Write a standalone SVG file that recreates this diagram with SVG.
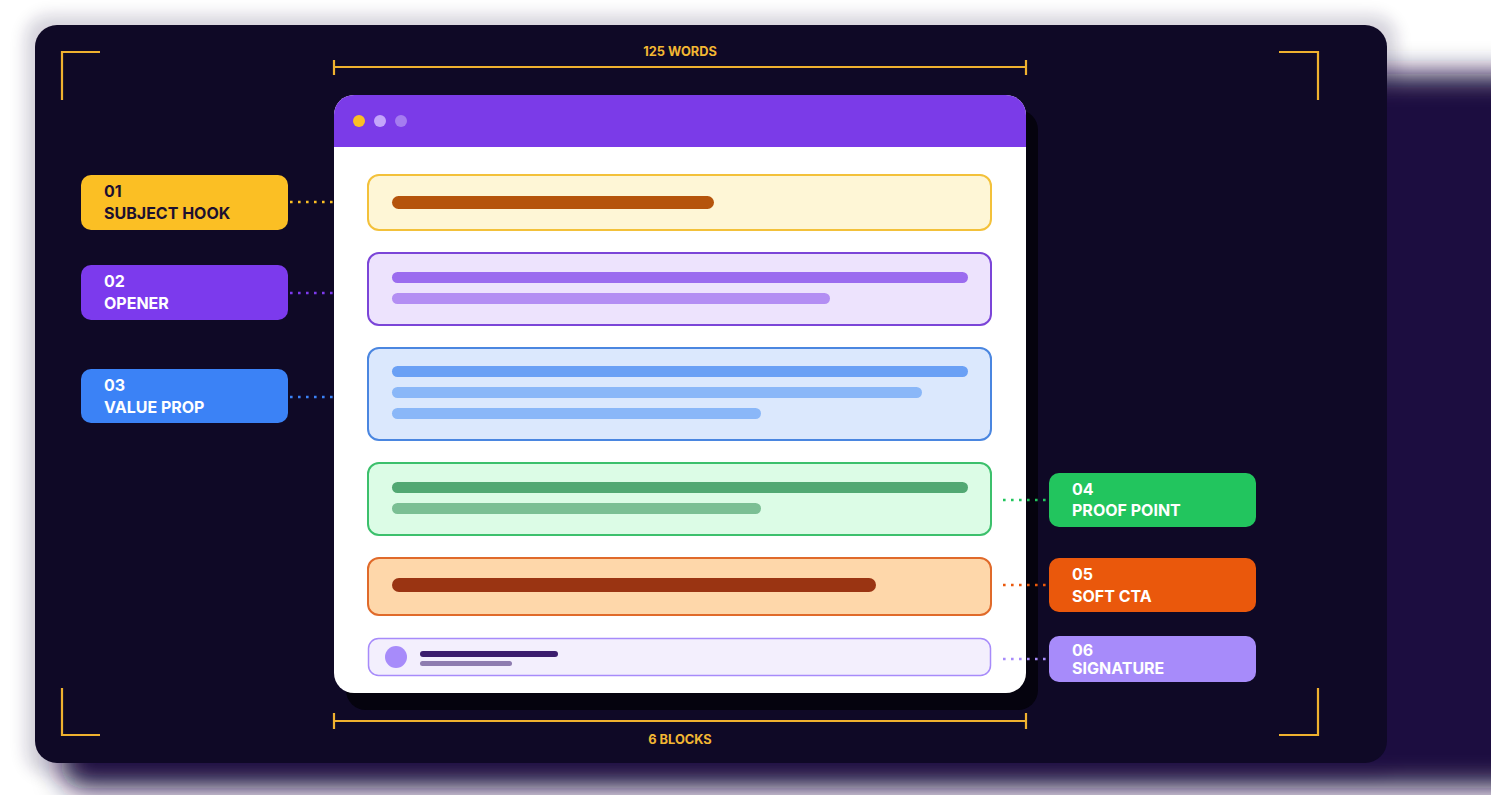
<svg xmlns="http://www.w3.org/2000/svg" width="1491" height="795" viewBox="0 0 1491 795">
<defs>
<filter id="bigShadow" x="-10%" y="-20%" width="130%" height="140%"><feGaussianBlur stdDeviation="14"/></filter>
<filter id="soft" x="-10%" y="-10%" width="120%" height="120%"><feGaussianBlur stdDeviation="8"/></filter>
<style>
.bracket{fill:none;stroke:#efb12f;stroke-width:2.2}
.dim{fill:none;stroke:#efb12f;stroke-width:2.2}
.dimtext{font-family:Inter,"Liberation Sans",sans-serif;font-weight:700;font-size:12.8px;fill:#f3b733;text-anchor:middle}
.lbl{font-family:Inter,"Liberation Sans",sans-serif;font-weight:700;font-size:16px}
.dark{fill:#1c1030}
.light{fill:#ffffff}
.conn{fill:none;stroke-width:2.6;stroke-dasharray:2.6 5.4}
.blk{stroke-width:2}
</style>
</defs>
<rect width="1491" height="795" fill="#ffffff"/>
<!-- background shadows -->
<rect x="25" y="15" width="1372" height="760" rx="24" fill="#1e0b40" opacity="0.18" filter="url(#soft)"/>
<rect x="62" y="74" width="1500" height="714" rx="20" fill="#1e0b40" filter="url(#bigShadow)"/>
<!-- card -->
<rect x="35" y="25" width="1352" height="738" rx="22" fill="#0f0926"/>
<!-- brackets -->
<g id="brackets">
<path class="bracket" d="M62 100 V52 H100"/>
<path class="bracket" d="M1279 52 H1318 V100"/>
<path class="bracket" d="M62 688 V735 H100"/>
<path class="bracket" d="M1279 735 H1318 V688"/>
</g>
<!-- dimensions -->
<g id="dim-top">
<path class="dim" d="M334 67 H1026 M334 60 V75 M1026 60 V75"/>
<text class="dimtext" x="680" y="56">125 WORDS</text>
</g>
<g id="dim-bottom">
<path class="dim" d="M334 721 H1026 M334 713 V729 M1026 713 V729"/>
<text class="dimtext" x="680" y="744">6 BLOCKS</text>
</g>
<!-- window -->
<g id="window">
<rect x="346" y="110" width="692" height="600" rx="20" fill="#05030e"/>
<rect x="334" y="95" width="692" height="598" rx="20" fill="#ffffff"/>
<path d="M354 95 H1006 A20 20 0 0 1 1026 115 V147 H334 V115 A20 20 0 0 1 354 95 Z" fill="#7b3be8"/>
<circle cx="359" cy="121" r="6" fill="#fbbf24"/>
<circle cx="380" cy="121" r="6" fill="#c4a5fb"/>
<circle cx="401" cy="121" r="6" fill="#a57cf0"/>
</g>
<!-- blocks -->
<g id="block1">
<rect class="blk" x="368" y="175" width="623" height="55" rx="11" fill="#fef6d6" stroke="#f3c13a"/>
<rect x="392" y="196" width="322" height="13" rx="6.5" fill="#b5540c"/>
</g>
<g id="block2">
<rect class="blk" x="368" y="253" width="623" height="72" rx="11" fill="#ede3fd" stroke="#7b45d8"/>
<rect x="392" y="272" width="576" height="11" rx="5.5" fill="#9b6cef"/>
<rect x="392" y="293" width="438" height="11" rx="5.5" fill="#b38ef3"/>
</g>
<g id="block3">
<rect class="blk" x="368" y="348" width="623" height="92" rx="11" fill="#dbe8fd" stroke="#4a86e0"/>
<rect x="392" y="366" width="576" height="11" rx="5.5" fill="#6aa0f5"/>
<rect x="392" y="387" width="530" height="11" rx="5.5" fill="#8ab7f8"/>
<rect x="392" y="408" width="369" height="11" rx="5.5" fill="#8ab7f8"/>
</g>
<g id="block4">
<rect class="blk" x="368" y="463" width="623" height="72" rx="11" fill="#dcfce6" stroke="#3cc06c"/>
<rect x="392" y="482" width="576" height="11" rx="5.5" fill="#52a873"/>
<rect x="392" y="503" width="369" height="11" rx="5.5" fill="#7bbf94"/>
</g>
<g id="block5">
<rect class="blk" x="368" y="558" width="623" height="57" rx="11" fill="#fed7aa" stroke="#e06a2a"/>
<rect x="392" y="578" width="484" height="14" rx="7" fill="#9a3412"/>
</g>
<g id="block6">
<rect x="368.5" y="638.5" width="622" height="37" rx="10" fill="#f3effd" stroke="#a78bfa" stroke-width="1.5"/>
<circle cx="396" cy="657" r="11" fill="#a78bfa"/>
<rect x="420" y="651" width="138" height="6" rx="3" fill="#3b1d6e"/>
<rect x="420" y="661" width="92" height="5" rx="2.5" fill="#8e7cb0"/>
</g>
<!-- connectors -->
<g id="connectors">
<path class="conn" d="M290 202 H334" stroke="#fbbf24"/>
<path class="conn" d="M290 293 H334" stroke="#7c3aed"/>
<path class="conn" d="M290 397 H334" stroke="#3b82f6"/>
<path class="conn" d="M1003 500 H1049" stroke="#22c55e"/>
<path class="conn" d="M1003 585 H1049" stroke="#ea580c"/>
<path class="conn" d="M1003 659 H1049" stroke="#a78bfa"/>
</g>
<!-- labels -->
<g id="label01">
<rect x="81" y="175" width="207" height="55" rx="10" fill="#fbbf24"/>
<text class="lbl dark" x="104" y="197">01</text>
<text class="lbl dark" x="104" y="219">SUBJECT HOOK</text>
</g>
<g id="label02">
<rect x="81" y="265" width="207" height="55" rx="10" fill="#7c3aed"/>
<text class="lbl light" x="104" y="287">02</text>
<text class="lbl light" x="104" y="309">OPENER</text>
</g>
<g id="label03">
<rect x="81" y="369" width="207" height="54" rx="10" fill="#3b82f6"/>
<text class="lbl light" x="104" y="391">03</text>
<text class="lbl light" x="104" y="413">VALUE PROP</text>
</g>
<g id="label04">
<rect x="1049" y="473" width="207" height="54" rx="10" fill="#22c55e"/>
<text class="lbl light" x="1072" y="495">04</text>
<text class="lbl light" x="1072" y="516">PROOF POINT</text>
</g>
<g id="label05">
<rect x="1049" y="558" width="207" height="54" rx="10" fill="#ea580c"/>
<text class="lbl light" x="1072" y="580">05</text>
<text class="lbl light" x="1072" y="602">SOFT CTA</text>
</g>
<g id="label06">
<rect x="1049" y="636" width="207" height="46" rx="10" fill="#a78bfa"/>
<text class="lbl light" x="1072" y="656">06</text>
<text class="lbl light" x="1072" y="674">SIGNATURE</text>
</g>
</svg>
